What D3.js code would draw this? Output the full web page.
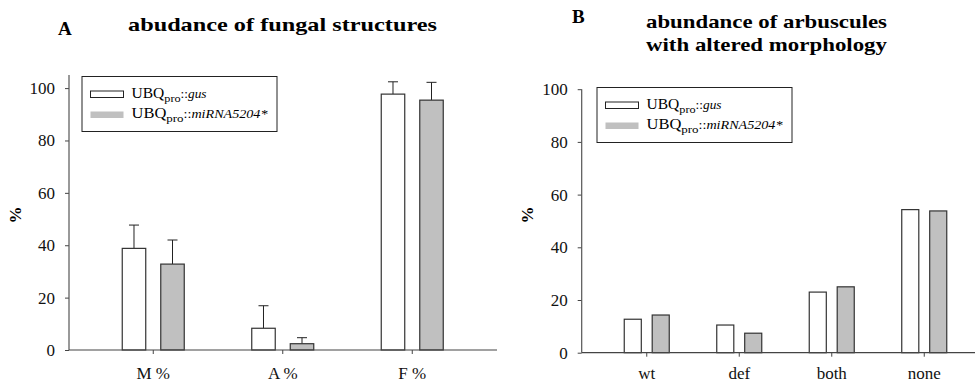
<!DOCTYPE html>
<html>
<head>
<meta charset="utf-8">
<script src="https://cdn.jsdelivr.net/npm/d3@7"></script>
<style>
  body { margin: 0; background: #fff; }
</style>
</head>
<body>
<svg id="chart" width="979" height="382"></svg>
<script>
// panel A: abundance of fungal structures (mean + SD)
catsA = ["M %", "A %", "F %"];
gusA = [38.8, 8.3, 97.7];
gusErrA = [8.9, 8.6, 4.7];
mirA = [32.8, 2.4, 95.4];
mirErrA = [9.2, 2.3, 6.8];
yTicksA = [0, 20, 40, 60, 80, 100];

// panel B: arbuscules with altered morphology
catsB = ["wt", "def", "both", "none"];
gusB = [12.7, 10.5, 23.0, 54.3];
mirB = [14.3, 7.4, 25.0, 53.8];
yTicksB = [0, 20, 40, 60, 80, 100];

seriesNames = ["gus", "mir"];
legendNames = ["gus", "miRNA5204*"];
fills = {gus: "#ffffff", mir: "#c0c0c0"};
FONT = "'Liberation Serif', 'Times New Roman', serif";

svg = d3.select("#chart").attr("font-family", FONT);

function drawPanel(opt) {
    g = svg.append("g");

    y = d3.scaleLinear().domain([0, opt.yMax]).range([opt.y0, opt.yTop]);
    x = d3.scaleBand().domain(opt.cats).range(opt.xRange);
    inner = d3.scaleBand().domain(seriesNames)
                .range([-opt.half, opt.half]).paddingInner(0.39);

    // y axis
    yAxis = g.append("g")
                .attr("transform", `translate(${opt.x0},0)`)
                .call(d3.axisLeft(y).tickValues(opt.yTicks).tickSize(4).tickPadding(10));
    yAxis.attr("font-family", FONT).attr("font-size", 17);
    yAxis.select(".domain").remove();
    yAxis.selectAll(".tick line").attr("stroke", "#444");
    yAxis.selectAll(".tick text").attr("fill", "#111");
    g.append("line")
        .attr("x1", opt.x0).attr("x2", opt.x0)
        .attr("y1", y(opt.yMax)).attr("y2", y(0))
        .attr("stroke", "#555").attr("stroke-width", 1.2);

    // bars
    rows = [];
    opt.cats.forEach((c, i) => {
        rows.push({cat: c, s: "gus", v: opt.gus[i], e: opt.gusErr ? opt.gusErr[i] : null});
        rows.push({cat: c, s: "mir", v: opt.mir[i], e: opt.mirErr ? opt.mirErr[i] : null});
    });

    cx = d => x(d.cat) + x.bandwidth()/2 + inner(d.s) + inner.bandwidth()/2;

    // error bars (upper only)
    errs = rows.filter(d => d.e !== null);
    g.selectAll(".err")
        .data(errs)
        .join("line")
        .attr("x1", cx).attr("x2", cx)
        .attr("y1", d => y(d.v)).attr("y2", d => y(d.v + d.e))
        .attr("stroke", "#222");
    g.selectAll(".cap")
        .data(errs)
        .join("line")
        .attr("x1", d => cx(d) - 5).attr("x2", d => cx(d) + 5)
        .attr("y1", d => y(d.v + d.e)).attr("y2", d => y(d.v + d.e))
        .attr("stroke", "#222");

    g.selectAll(".bar")
        .data(rows)
        .join("rect")
        .attr("x", d => x(d.cat) + x.bandwidth()/2 + inner(d.s))
        .attr("y", d => y(d.v))
        .attr("width", inner.bandwidth())
        .attr("height", d => y(0) - y(d.v))
        .attr("fill", d => fills[d.s])
        .attr("stroke", "#333")
        .attr("stroke-width", 1.2);

    // x axis
    xAxis = g.append("g")
                .attr("transform", `translate(0,${opt.y0})`)
                .call(d3.axisBottom(x).tickSize(4).tickPadding(opt.xPad));
    xAxis.attr("font-family", FONT).attr("font-size", 17);
    xAxis.select(".domain").remove();
    xAxis.selectAll(".tick line").attr("stroke", "#444");
    xAxis.selectAll(".tick text").attr("fill", "#111");
    g.append("line")
        .attr("x1", opt.x0).attr("x2", opt.xEnd)
        .attr("y1", opt.y0).attr("y2", opt.y0)
        .attr("stroke", "#444").attr("stroke-width", 1.2);

    // y label
    g.append("text")
        .text("%")
        .attr("font-weight", "bold")
        .attr("font-size", 17)
        .attr("text-anchor", "middle")
        .attr("transform", `translate(${opt.labelX},215) rotate(-90)`);

    // legend
    lg = g.append("g").attr("transform", `translate(${opt.legend[0]},${opt.legend[1]})`);
    lg.append("rect")
        .attr("width", 195).attr("height", 55)
        .attr("fill", "none").attr("stroke", "#222");
    seriesNames.forEach((s, i) => {
        lg.append("rect")
            .attr("x", 8.5).attr("y", 14.5 + i*20.5)
            .attr("width", 33).attr("height", 6.5)
            .attr("fill", fills[s])
            .attr("stroke", s === "gus" ? "#222" : "none");
        t = lg.append("text")
                .attr("x", 49.5).attr("y", 21 + i*20.5)
                .attr("font-size", 14)
                .attr("textLength", i === 0 ? 75 : 136)
                .attr("lengthAdjust", "spacingAndGlyphs");
        t.append("tspan").text("UBQ");
        t.append("tspan").text("pro").attr("font-size", 11).attr("dy", 4);
        t.append("tspan").text("::").attr("font-size", 12).attr("dy", -4);
        t.append("tspan").text(legendNames[i]).attr("font-size", 12).attr("font-style", "italic");
    });

    // titles
    g.append("text")
        .text(opt.letter[0])
        .attr("x", opt.letter[1]).attr("y", opt.letter[2])
        .attr("font-weight", "bold").attr("font-size", 19);
    opt.title.forEach((line, i) => {
        g.append("text")
            .text(line)
            .attr("x", opt.titleX).attr("y", opt.titleY + i*23)
            .attr("font-weight", "bold").attr("font-size", 19)
            .attr("textLength", opt.titleW[i])
            .attr("lengthAdjust", "spacingAndGlyphs");
    });
}

drawPanel({
    cats: catsA, gus: gusA, mir: mirA, gusErr: gusErrA, mirErr: mirErrA,
    yMax: 105, yTicks: yTicksA, y0: 350, yTop: 75,
    x0: 69, xEnd: 497, xRange: [88.5, 477], half: 31, xPad: 13,
    labelX: 21, legend: [82, 76.5],
    letter: ["A", 58, 35], title: ["abudance of fungal structures"],
    titleX: 128, titleY: 31, titleW: [309]
});

drawPanel({
    cats: catsB, gus: gusB, mir: mirB,
    yMax: 100, yTicks: yTicksB, y0: 352.7, yTop: 89.2,
    x0: 581.7, xEnd: 975, xRange: [600.5, 970.5], half: 22.5, xPad: 10,
    labelX: 533, legend: [597, 87.5],
    letter: ["B", 572, 23], title: ["abundance of arbuscules", "with altered morphology"],
    titleX: 646, titleY: 28, titleW: [241, 241]
});
</script>
</body>
</html>
